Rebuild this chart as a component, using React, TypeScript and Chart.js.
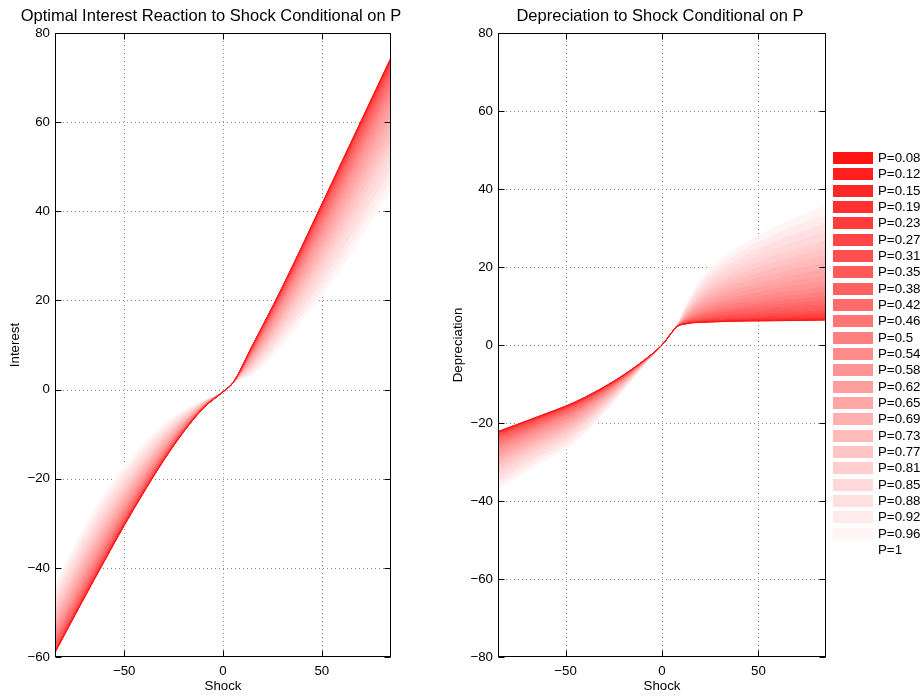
import React, { useEffect, useRef } from 'react';
import { Chart, registerables } from 'chart.js';

Chart.register(...registerables);

// ---------- data ----------
const pLabels = ['0.08', '0.12', '0.15', '0.19', '0.23', '0.27', '0.31', '0.35', '0.38', '0.42', '0.46', '0.5', '0.54', '0.58', '0.62', '0.65', '0.69', '0.73', '0.77', '0.81', '0.85', '0.88', '0.92', '0.96', '1'];

const leftTitle = 'Optimal Interest Reaction to Shock Conditional on P';
const rightTitle = 'Depreciation to Shock Conditional on P';
const xLabel = 'Shock';
const leftYLabel = 'Interest';
const rightYLabel = 'Depreciation';

const xTicks = [-50, 0, 50];
const leftYTicks = [-60, -40, -20, 0, 20, 40, 60, 80];
const rightYTicks = [-80, -60, -40, -20, 0, 20, 40, 60, 80];

// Interest: shock grid and one row per P (P=0.08 first)
const interestShock = [-85, -65, -45, -25, -10, 0, 5, 15, 30, 55, 85];
const interestValues = [
  [-59.0, -42.5, -26.7, -12.6, -4.2, -0.5, 1.5, 10.0, 23.0, 46.3, 74.5],
  [-58.97, -42.47, -26.68, -12.59, -4.2, -0.5, 1.5, 9.99, 22.98, 46.26, 74.45],
  [-58.9, -42.4, -26.6, -12.5, -4.2, -0.5, 1.5, 9.9, 22.9, 46.2, 74.3],
  [-58.8, -42.3, -26.5, -12.5, -4.2, -0.5, 1.5, 9.9, 22.8, 46.0, 74.0],
  [-58.6, -42.1, -26.4, -12.4, -4.1, -0.5, 1.5, 9.8, 22.6, 45.7, 73.7],
  [-58.3, -41.8, -26.2, -12.3, -4.1, -0.5, 1.5, 9.7, 22.4, 45.3, 73.2],
  [-58.0, -41.5, -25.9, -12.2, -4.1, -0.5, 1.5, 9.6, 22.2, 44.9, 72.6],
  [-57.7, -41.2, -25.7, -12.0, -4.0, -0.5, 1.5, 9.4, 21.9, 44.4, 72.0],
  [-57.3, -40.8, -25.3, -11.9, -4.0, -0.5, 1.5, 9.2, 21.6, 43.8, 71.2],
  [-56.8, -40.3, -25.0, -11.7, -3.9, -0.5, 1.5, 9.0, 21.2, 43.2, 70.3],
  [-56.3, -39.8, -24.6, -11.5, -3.9, -0.5, 1.5, 8.8, 20.7, 42.4, 69.3],
  [-55.7, -39.2, -24.1, -11.2, -3.8, -0.5, 1.5, 8.6, 20.3, 41.6, 68.3],
  [-55.1, -38.6, -23.7, -11.0, -3.7, -0.5, 1.5, 8.3, 19.8, 40.7, 67.1],
  [-54.5, -37.9, -23.1, -10.7, -3.6, -0.5, 1.5, 8.0, 19.2, 39.8, 65.8],
  [-53.7, -37.2, -22.5, -10.4, -3.6, -0.5, 1.5, 7.7, 18.6, 38.7, 64.4],
  [-52.9, -36.4, -21.9, -10.0, -3.5, -0.5, 1.5, 7.3, 17.9, 37.6, 62.9],
  [-52.1, -35.5, -21.3, -9.7, -3.4, -0.5, 1.5, 7.0, 17.2, 36.4, 61.3],
  [-51.2, -34.6, -20.6, -9.3, -3.2, -0.5, 1.5, 6.6, 16.5, 35.1, 59.6],
  [-50.3, -33.7, -19.8, -8.9, -3.1, -0.5, 1.5, 6.2, 15.7, 33.8, 57.8],
  [-49.3, -32.7, -19.1, -8.5, -3.0, -0.5, 1.5, 5.7, 14.9, 32.3, 55.9],
  [-48.2, -31.6, -18.2, -8.0, -2.9, -0.5, 1.5, 5.3, 14.0, 30.8, 53.9],
  [-47.1, -30.5, -17.4, -7.5, -2.7, -0.5, 1.5, 4.8, 13.0, 29.2, 51.8],
  [-46.0, -29.3, -16.4, -7.1, -2.6, -0.5, 1.5, 4.3, 12.1, 27.6, 49.5],
  [-44.8, -28.1, -15.5, -6.5, -2.5, -0.5, 1.5, 3.8, 11.1, 25.8, 47.2],
  [-43.5, -26.8, -14.5, -6.0, -2.3, -0.5, 1.5, 3.2, 10.0, 24.0, 44.8],
];

// Depreciation: shock grid and one row per P (P=0.08 first)
const deprShock = [-85, -65, -45, -25, -10, 0, 8, 12, 16, 20, 25, 37, 55, 72, 85];
const deprValues = [
  [-22.2, -18.5, -14.6, -9.3, -4.2, 0, 4.8, 5.4, 5.7, 5.8, 5.9, 6.1, 6.2, 6.3, 6.4],
  [-22.23, -18.52, -14.62, -9.31, -4.2, 0, 4.8, 5.41, 5.71, 5.82, 5.92, 6.13, 6.24, 6.35, 6.45],
  [-22.3, -18.6, -14.7, -9.3, -4.2, 0, 4.8, 5.4, 5.8, 5.9, 6.0, 6.2, 6.4, 6.5, 6.6],
  [-22.4, -18.7, -14.8, -9.4, -4.2, 0, 4.8, 5.5, 5.8, 6.0, 6.1, 6.4, 6.6, 6.7, 6.9],
  [-22.6, -18.8, -14.9, -9.5, -4.2, 0, 4.8, 5.5, 5.9, 6.1, 6.3, 6.6, 6.8, 7.1, 7.2],
  [-22.9, -19.0, -15.1, -9.5, -4.3, 0, 4.8, 5.6, 6.1, 6.3, 6.5, 6.9, 7.2, 7.5, 7.7],
  [-23.1, -19.3, -15.3, -9.6, -4.3, 0, 4.8, 5.7, 6.2, 6.5, 6.8, 7.2, 7.7, 8.0, 8.2],
  [-23.5, -19.6, -15.5, -9.8, -4.3, 0, 4.8, 5.8, 6.4, 6.7, 7.1, 7.7, 8.2, 8.6, 8.9],
  [-23.9, -19.9, -15.8, -9.9, -4.4, 0, 4.9, 5.9, 6.6, 7.0, 7.4, 8.1, 8.8, 9.3, 9.7],
  [-24.3, -20.3, -16.1, -10.1, -4.4, 0, 4.9, 6.0, 6.8, 7.3, 7.9, 8.7, 9.5, 10.1, 10.5],
  [-24.8, -20.7, -16.4, -10.3, -4.5, 0, 4.9, 6.2, 7.1, 7.7, 8.3, 9.3, 10.2, 11.0, 11.5],
  [-25.4, -21.1, -16.8, -10.5, -4.5, 0, 4.9, 6.4, 7.4, 8.1, 8.8, 9.9, 11.1, 12.0, 12.6],
  [-26.0, -21.6, -17.2, -10.7, -4.6, 0, 4.9, 6.5, 7.7, 8.5, 9.4, 10.7, 12.0, 13.1, 13.8],
  [-26.6, -22.2, -17.7, -10.9, -4.7, 0, 5.0, 6.7, 8.1, 9.0, 10.0, 11.5, 13.0, 14.2, 15.1],
  [-27.3, -22.8, -18.1, -11.2, -4.7, 0, 5.0, 7.0, 8.5, 9.5, 10.6, 12.3, 14.1, 15.5, 16.4],
  [-28.1, -23.4, -18.7, -11.5, -4.8, 0, 5.0, 7.2, 8.9, 10.1, 11.3, 13.3, 15.3, 16.9, 17.9],
  [-28.9, -24.1, -19.2, -11.7, -4.9, 0, 5.1, 7.4, 9.3, 10.7, 12.1, 14.2, 16.5, 18.3, 19.5],
  [-29.7, -24.8, -19.8, -12.1, -5.0, 0, 5.1, 7.7, 9.8, 11.3, 12.9, 15.3, 17.9, 19.8, 21.2],
  [-30.6, -25.5, -20.5, -12.4, -5.1, 0, 5.1, 8.0, 10.3, 12.0, 13.7, 16.4, 19.3, 21.5, 23.0],
  [-31.6, -26.3, -21.1, -12.8, -5.2, 0, 5.2, 8.3, 10.8, 12.7, 14.6, 17.6, 20.8, 23.2, 24.9],
  [-32.6, -27.2, -21.8, -13.1, -5.3, 0, 5.2, 8.6, 11.3, 13.4, 15.5, 18.8, 22.4, 25.0, 26.9],
  [-33.7, -28.1, -22.6, -13.5, -5.4, 0, 5.3, 8.9, 11.9, 14.2, 16.5, 20.1, 24.0, 27.0, 29.0],
  [-34.8, -29.0, -23.3, -13.9, -5.5, 0, 5.3, 9.3, 12.5, 15.0, 17.6, 21.5, 25.8, 29.0, 31.2],
  [-36.0, -30.0, -24.2, -14.4, -5.7, 0, 5.3, 9.6, 13.1, 15.9, 18.7, 22.9, 27.6, 31.1, 33.5],
  [-37.2, -31.0, -25.0, -14.8, -5.8, 0, 5.4, 10.0, 13.8, 16.8, 19.8, 24.4, 29.5, 33.3, 35.9],
];

// ---------- styling ----------
const FONT = '"Liberation Sans", Arial, Helvetica, sans-serif';
const TICK_FONT = { family: FONT, size: 13.3 };

function pColor(label: string) {
  const p = parseFloat(label);
  const c = Math.round(255 * p);
  return `rgb(255,${c},${c})`;
}

const fmt = (v: any) => String(v).replace('-', '\u2212');

const matlabPlugin = {
  id: 'matlab',
  beforeDatasetsDraw(chart: any, _args: any, opts: any) {
    const { ctx, chartArea: a, scales } = chart;
    const x = scales.x;
    const y = scales.y;
    ctx.save();
    ctx.strokeStyle = '#8a8a8a';
    ctx.lineWidth = 1;
    ctx.setLineDash([1, 3]);
    for (const v of opts.xTicks) {
      const px = Math.round(x.getPixelForValue(v)) + 0.5;
      ctx.beginPath();
      ctx.moveTo(px, a.top);
      ctx.lineTo(px, a.bottom);
      ctx.stroke();
    }
    for (const v of opts.yTicks) {
      if (v === y.min || v === y.max) continue;
      const py = Math.round(y.getPixelForValue(v)) + 0.5;
      ctx.beginPath();
      ctx.moveTo(a.left, py);
      ctx.lineTo(a.right, py);
      ctx.stroke();
    }
    ctx.restore();
  },
  afterDatasetsDraw(chart: any, _args: any, opts: any) {
    const { ctx, chartArea: a, scales } = chart;
    const x = scales.x;
    const y = scales.y;
    ctx.save();
    ctx.setLineDash([]);
    ctx.strokeStyle = '#000';
    ctx.lineWidth = 1;
    const L = Math.round(a.left) + 0.5;
    const R = Math.round(a.right) - 0.5;
    const T = Math.round(a.top) + 0.5;
    const B = Math.round(a.bottom) - 0.5;
    ctx.strokeRect(L, T, R - L, B - T);
    const tl = 6;
    ctx.beginPath();
    for (const v of opts.xTicks) {
      const px = Math.round(x.getPixelForValue(v)) + 0.5;
      ctx.moveTo(px, B);
      ctx.lineTo(px, B - tl);
      ctx.moveTo(px, T);
      ctx.lineTo(px, T + tl);
    }
    for (const v of opts.yTicks) {
      const py = Math.round(y.getPixelForValue(v)) + 0.5;
      ctx.moveTo(L, py);
      ctx.lineTo(L + tl, py);
      ctx.moveTo(R, py);
      ctx.lineTo(R - tl, py);
    }
    ctx.stroke();
    ctx.restore();
  },
  afterDraw(chart: any, _args: any, opts: any) {
    const { ctx, chartArea: a } = chart;
    ctx.save();
    ctx.fillStyle = '#000';
    // title
    ctx.font = `16.5px ${FONT}`;
    ctx.textAlign = 'center';
    ctx.textBaseline = 'alphabetic';
    ctx.fillText(opts.title, opts.titleX, 21);
    // x label
    ctx.font = `13.3px ${FONT}`;
    ctx.textBaseline = 'middle';
    ctx.fillText(opts.xLabel, (a.left + a.right) / 2, 686);
    // y label
    ctx.save();
    ctx.translate(opts.yLabelX, (a.top + a.bottom) / 2);
    ctx.rotate(-Math.PI / 2);
    ctx.fillText(opts.yLabel, 0, 0);
    ctx.restore();
    // legend
    if (opts.legend) {
      const lx = opts.legend.x;
      ctx.textAlign = 'left';
      ctx.font = `13.3px ${FONT}`;
      pLabels.forEach((lab, i) => {
        const cy = opts.legend.y + i * 16.33;
        ctx.fillStyle = pColor(lab);
        ctx.fillRect(lx, Math.round(cy - 6), 40, 12);
        ctx.fillStyle = '#000';
        ctx.fillText('P=' + lab, lx + 45, cy + 0.5);
      });
    }
    ctx.restore();
  },
};

function buildDatasets(xs: number[], rows: number[][]) {
  return rows.map((row, k) => {
    const col = pColor(pLabels[k]);
    return {
      label: 'P=' + pLabels[k],
      data: row.map((v, i) => ({ x: xs[i], y: v })),
      borderColor: col,
      backgroundColor: col,
      borderWidth: 1,
      pointRadius: 0,
      cubicInterpolationMode: 'monotone' as const,
      fill: k < rows.length - 1 ? '+1' : false,
    };
  });
}

function makeConfig(
  xs: number[], rows: number[][], yMin: number, yMax: number, yTicks: number[],
  yAxisWidth: number, padRight: number, plug: any
): any {
  return {
    type: 'line',
    data: { datasets: buildDatasets(xs, rows) },
    options: {
      animation: false,
      responsive: false,
      devicePixelRatio: 1,
      events: [],
      layout: { padding: { top: 33, left: 0, right: padRight, bottom: 0 } },
      plugins: {
        legend: { display: false },
        tooltip: { enabled: false },
        title: { display: false },
        matlab: plug,
      },
      scales: {
        x: {
          type: 'linear',
          min: -85,
          max: 85,
          afterBuildTicks: (s: any) => { s.ticks = xTicks.map((v) => ({ value: v })); },
          afterFit: (s: any) => { s.height = 40; },
          grid: { display: false, drawTicks: false },
          border: { display: false },
          ticks: { font: TICK_FONT, color: '#000', padding: 6, autoSkip: false, maxRotation: 0, callback: fmt },
        },
        y: {
          type: 'linear',
          min: yMin,
          max: yMax,
          afterBuildTicks: (s: any) => { s.ticks = yTicks.map((v) => ({ value: v })); },
          afterFit: (s: any) => { s.width = yAxisWidth; },
          grid: { display: false, drawTicks: false },
          border: { display: false },
          ticks: { font: TICK_FONT, color: '#000', padding: 5, autoSkip: false, callback: fmt },
        },
      },
    },
    plugins: [matlabPlugin],
  };
}

export default function App() {
  const leftRef = useRef<HTMLCanvasElement>(null);
  const rightRef = useRef<HTMLCanvasElement>(null);

  useEffect(() => {
    const c1 = new Chart(
      leftRef.current as HTMLCanvasElement,
      makeConfig(interestShock, interestValues, -60, 80, leftYTicks, 55, 440 - 391, {
        xTicks, yTicks: leftYTicks, title: leftTitle, titleX: 211, xLabel, yLabel: leftYLabel, yLabelX: 15,
      })
    );
    const c2 = new Chart(
      rightRef.current as HTMLCanvasElement,
      makeConfig(deprShock, deprValues, -80, 80, rightYTicks, 498 - 440, 924 - 826, {
        xTicks, yTicks: rightYTicks, title: rightTitle, titleX: 660 - 440, xLabel, yLabel: rightYLabel, yLabelX: 458 - 440,
        legend: { x: 833 - 440, y: 158 },
      })
    );
    return () => {
      c1.destroy();
      c2.destroy();
    };
  }, []);

  return (
    <div style={{ position: 'absolute', left: 0, top: 0, width: 924, height: 697, background: '#fff' }}>
      <canvas ref={leftRef} width={440} height={697} style={{ position: 'absolute', left: 0, top: 0, width: 440, height: 697 }} />
      <canvas ref={rightRef} width={484} height={697} style={{ position: 'absolute', left: 440, top: 0, width: 484, height: 697 }} />
    </div>
  );
}
